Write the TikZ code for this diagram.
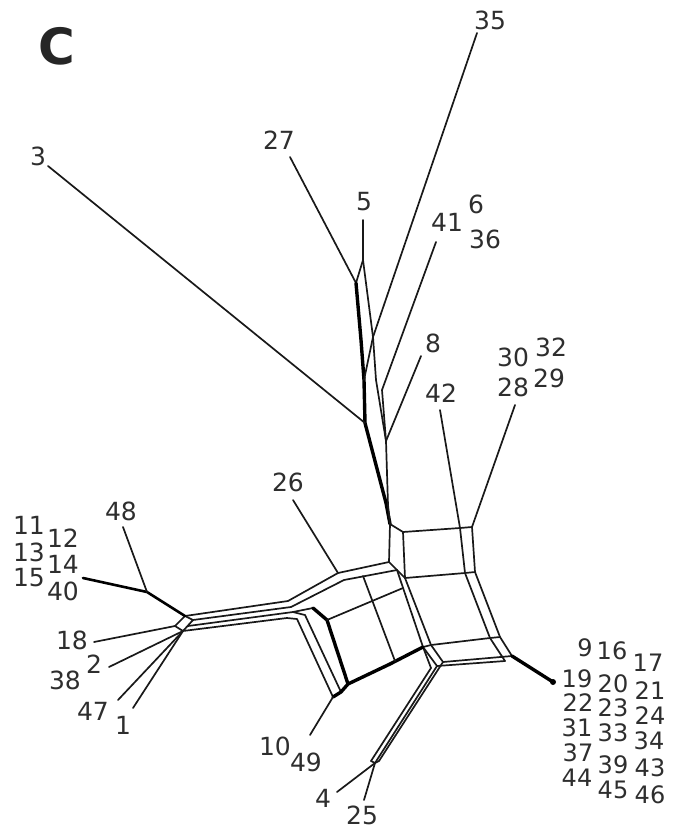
\documentclass[tikz,border=0pt]{standalone}
\usepackage{fontspec}
\setmainfont{DejaVu Sans}
\begin{document}
\begin{tikzpicture}[x=0.5pt,y=-0.5pt,
  lbl/.style={inner sep=0pt, font=\fontsize{12.5}{13}\selectfont, text=black!82},
  clbl/.style={inner sep=0pt, font=\fontsize{12}{12}\selectfont, text=black!82},
  edge/.style={line width=0.85pt, black!90},
  thk/.style={line width=1.7pt, black},
  line join=round, line cap=round]
\useasboundingbox (0,0) rectangle (673,829);

% ---------- panel letter ----------
\node[inner sep=0pt, font=\fontsize{25}{27}\selectfont\bfseries, text=black!85] (panel) at (57,46) {C};

% ---------- labels ----------
\node[lbl] (l35) at (490,20) {35};
\node[lbl] (l27) at (279,140) {27};
\node[lbl] (l3) at (38,156) {3};
\node[lbl] (l5) at (364,202) {5};
\node[lbl] (l41) at (447,222) {41};
\node[lbl] (l6) at (476,204) {6};
\node[lbl] (l36) at (485,239) {36};
\node[lbl] (l8) at (433,343) {8};
\node[lbl] (l30) at (513,357) {30};
\node[lbl] (l32) at (551,347) {32};
\node[lbl] (l28) at (513,387) {28};
\node[lbl] (l29) at (549,378) {29};
\node[lbl] (l42) at (441,393) {42};
\node[lbl] (l26) at (288,482) {26};
\node[lbl] (l48) at (121,511) {48};
\node[lbl] (l11) at (29,525) {11};
\node[lbl] (l12) at (63,538) {12};
\node[lbl] (l13) at (29,552) {13};
\node[lbl] (l14) at (63,564) {14};
\node[lbl] (l15) at (29,578) {15};
\node[lbl] (l40) at (63,591) {40};
\node[lbl] (l18) at (72,640) {18};
\node[lbl] (l2) at (94,664) {2};
\node[lbl] (l38) at (65,680) {38};
\node[lbl] (l47) at (93,711) {47};
\node[lbl] (l1) at (123,725) {1};
\node[lbl] (l10) at (275,746) {10};
\node[lbl] (l49) at (306,762) {49};
\node[lbl] (l4) at (323,798) {4};
\node[lbl] (l25) at (362,815) {25};
% right cluster
\node[clbl] (l9) at (585,648) {9};
\node[clbl] (l16) at (612,651) {16};
\node[clbl] (l17) at (648,663) {17};
\node[clbl] (l19) at (577,679) {19};
\node[clbl] (l20) at (613,684) {20};
\node[clbl] (l21) at (650,691) {21};
\node[clbl] (l22) at (578,703) {22};
\node[clbl] (l23) at (613,708) {23};
\node[clbl] (l24) at (650,716) {24};
\node[clbl] (l31) at (577,728) {31};
\node[clbl] (l33) at (613,733) {33};
\node[clbl] (l34) at (649,741) {34};
\node[clbl] (l37) at (578,753) {37};
\node[clbl] (l39) at (613,765) {39};
\node[clbl] (l43) at (650,768) {43};
\node[clbl] (l44) at (577,778) {44};
\node[clbl] (l45) at (613,790) {45};
\node[clbl] (l46) at (650,795) {46};

% ---------- coordinates: upper spine ----------
\coordinate (e27) at (290,157);
\coordinate (v27) at (356,283);
\coordinate (e5) at (363,220);
\coordinate (v5) at (363,260);
\coordinate (e35) at (477,33);
\coordinate (v35) at (373,337);
\coordinate (e3) at (48,166);
\coordinate (v3) at (365,423);
\coordinate (e41) at (436,242);
\coordinate (v41) at (382,390);
\coordinate (e8) at (421,356);
\coordinate (v8) at (386,441);
\coordinate (s1) at (361,340);
\coordinate (s2) at (364,380);
\coordinate (sm) at (376,380);
\coordinate (s3) at (386,503);
\coordinate (s4) at (388,505);
\coordinate (sb) at (390,524);

% ---------- right upper box ----------
\coordinate (rb1) at (403,532);
\coordinate (rt1) at (460,528);
\coordinate (rt2) at (472,527);
\coordinate (pc) at (389,562);
\coordinate (pf) at (397,570);
\coordinate (rd) at (405,578);
\coordinate (rr1) at (465,573);
\coordinate (rr2) at (475,572);
\coordinate (e42) at (440,410);
\coordinate (e28) at (515,405);

% ---------- lower right box ----------
\coordinate (lo) at (423,647);
\coordinate (li) at (431,645);
\coordinate (q1) at (490,638);
\coordinate (q2) at (500,637);
\coordinate (g1) at (437,666);
\coordinate (g2) at (443,662);
\coordinate (h1) at (505,661);
\coordinate (h2) at (512,656);
\coordinate (e9) at (553,682);

% ---------- 4 / 25 ----------
\coordinate (g0) at (431,668);
\coordinate (f1) at (371,761);
\coordinate (f2) at (375,763);
\coordinate (f3) at (379,761);
\coordinate (e4) at (337,792);
\coordinate (e25) at (364,800);

% ---------- left box ----------
\coordinate (A1) at (288,601);
\coordinate (A2) at (291,607);
\coordinate (A3) at (293,612);
\coordinate (A4) at (287,618);
\coordinate (t1b) at (338,573);
\coordinate (t2b) at (344,580);
\coordinate (A3b) at (313,608);
\coordinate (lt) at (327,620);
\coordinate (lb) at (348,684);
\coordinate (o1a) at (297,619);
\coordinate (ob1) at (333,697);
\coordinate (o2a) at (305,615);
\coordinate (ob2) at (341,692);
\coordinate (bm) at (390,664);
\coordinate (te) at (403,588);
\coordinate (iv1) at (363,576);
\coordinate (iv2) at (395,661);
\coordinate (e26) at (293,500);
\coordinate (e10) at (310,735);

% ---------- left junction ----------
\coordinate (J1) at (185,616);
\coordinate (J2) at (193,620);
\coordinate (J3) at (183,631);
\coordinate (J4) at (175,626);
\coordinate (Jm) at (188,626);
\coordinate (e40) at (83,578);
\coordinate (v48) at (147,592);
\coordinate (e48) at (123,527);
\coordinate (e18) at (94,642);
\coordinate (e2) at (109,667);
\coordinate (e47) at (118,700);
\coordinate (e1) at (133,708);

% ---------- edges: spine ----------
\draw[edge] (e27) -- (v27);
\draw[edge] (e5) -- (v5) -- (v27);
\draw[edge] (v5) -- (v35);
\draw[edge] (e35) -- (v35);
\draw[thk] (v27) -- (s1) -- (s2) -- (v3) -- (s3) -- (sb);
\draw[edge] (v35) -- (s2);
\draw[edge] (v35) -- (sm) -- (v8);
\draw[edge] (e3) -- (v3);
\draw[edge] (e41) -- (v41) -- (v8);
\draw[edge] (e8) -- (v8);
\draw[edge] (v8) -- (s4) -- (sb);

% ---------- edges: right upper box ----------
\draw[edge] (sb) -- (rb1) -- (rt1) -- (rt2);
\draw[edge] (sb) -- (pc);
\draw[edge] (rb1) -- (rd) -- (rr1) -- (rr2);
\draw[edge] (rt1) -- (rr1);
\draw[edge] (rt2) -- (rr2);
\draw[edge] (e42) -- (rt1);
\draw[edge] (e28) -- (rt2);
\draw[edge] (pc) -- (pf) -- (rd);

% ---------- edges: lower right box ----------
\draw[edge] (pf) -- (lo);
\draw[edge] (rd) -- (li);
\draw[edge] (lo) -- (li) -- (q1) -- (q2);
\draw[edge] (rr1) -- (q1) -- (h1);
\draw[edge] (rr2) -- (q2) -- (h2);
\draw[edge] (lo) -- (g1);
\draw[edge] (li) -- (g2);
\draw[edge] (g1) -- (h1);
\draw[edge] (g2) -- (h2);
\draw[edge] (lo) -- (g0);
\draw[thk] (h2) -- (e9);
\fill (e9) circle[radius=3];

% ---------- edges: 4 / 25 band ----------
\draw[edge] (g0) -- (f1);
\draw[edge] (g1) -- (f2);
\draw[edge] (g2) -- (f3);
\draw[edge] (f1) -- (f2) -- (f3);
\draw[edge] (f2) -- (e4);
\draw[edge] (f2) -- (e25);

% ---------- edges: left box ----------
\draw[edge] (A1) -- (t1b) -- (pc);
\draw[edge] (A2) -- (t2b) -- (pf);
\draw[edge] (A3) -- (A3b);
\draw[thk] (A3b) -- (lt) -- (lb);
\draw[edge] (A4) -- (o1a) -- (ob1);
\draw[edge] (A3) -- (o2a) -- (ob2);
\draw[thk] (ob1) -- (ob2) -- (lb) -- (bm) -- (lo);
\draw[edge] (lt) -- (te);
\draw[edge] (iv1) -- (iv2);
\draw[edge] (e26) -- (t1b);
\draw[edge] (ob1) -- (e10);

% ---------- edges: left band and junction ----------
\draw[edge] (J1) -- (A1);
\draw[edge] (J2) -- (A2);
\draw[edge] (Jm) -- (A3);
\draw[edge] (J3) -- (A4);
\draw[edge] (J1) -- (J2) -- (J3) -- (J4) -- cycle;
\draw[line width=1.3pt] (e40) -- (v48) -- (J1);
\draw[edge] (e48) -- (v48);
\draw[edge] (e18) -- (J4);
\draw[edge] (e2) -- (J3);
\draw[edge] (e47) -- (J3);
\draw[edge] (e1) -- (J3);

\end{tikzpicture}
\end{document}
